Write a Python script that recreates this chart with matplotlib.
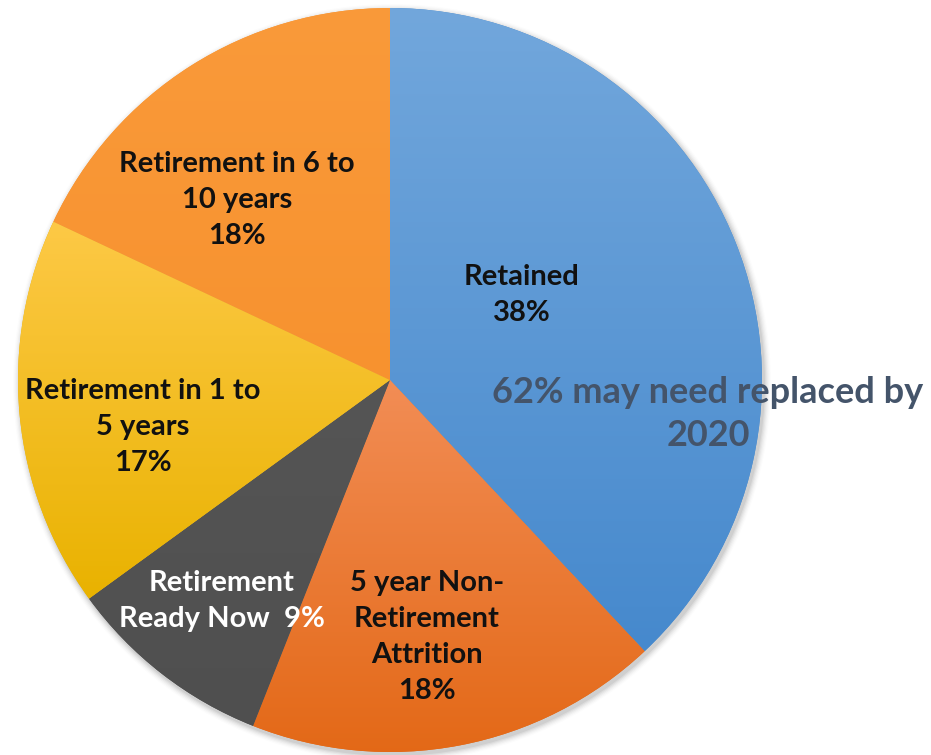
import matplotlib
matplotlib.use("Agg")
import matplotlib.pyplot as plt
import numpy as np
from matplotlib.patches import Circle

# ---- data ----
labels = ["Retained", "5 year Non-\nRetirement\nAttrition", "Retirement\nReady Now ",
          "Retirement in 1 to\n5 years", "Retirement in 6 to\n10 years"]
values = [38, 18, 9, 17, 18]
# gradient colours (top, bottom) per slice
tops = ["#72a7dc", "#f28d55", "#555555", "#fdc946", "#fa9a3a"]
bottoms = ["#4689cd", "#e36816", "#4f4f4f", "#e9b200", "#f7922f"]
text_colors = ["#111111", "#111111", "white", "#111111", "#111111"]

W, H = 931, 755
CX, CY, R = 390, H - 380, 372

plt.rcParams["font.family"] = ["Lato", "DejaVu Sans"]

fig = plt.figure(figsize=(W / 100, H / 100), dpi=100)
ax = fig.add_axes([0, 0, 1, 1])

# soft shadow behind the pie
for i, a in enumerate(np.linspace(0.05, 0.012, 6)):
    ax.add_patch(Circle((CX + 2, CY - 3), R + 1 + i * 1.2, color="black",
                        alpha=a, lw=0, zorder=0))

wedges, _ = ax.pie(values, startangle=90, counterclock=False,
                   center=(CX, CY), radius=R, colors=bottoms,
                   wedgeprops=dict(linewidth=0, zorder=1))

# vertical gradient per slice
for w, c0, c1 in zip(wedges, tops, bottoms):
    verts = w.get_path().vertices
    bx0, by0 = verts.min(axis=0)
    bx1, by1 = verts.max(axis=0)
    t = np.linspace(0, 1, 256)[:, None]
    ca = np.array(matplotlib.colors.to_rgb(c0))
    cb = np.array(matplotlib.colors.to_rgb(c1))
    grad = (ca * (1 - t) + cb * t)[:, None, :]
    im = ax.imshow(grad, extent=(bx0, bx1, by0, by1), origin="upper",
                   aspect="auto", zorder=2, interpolation="bilinear")
    im.set_clip_path(w)

fs = 21
# slice labels (pixel positions from the reference, y measured from top)
label_pos = [(522, 295), (427, 637), (222, 601), (143, 427), (237, 200)]
for i, (lab, v, (px, py), tc) in enumerate(zip(labels, values, label_pos, text_colors)):
    s = f"{lab} {v}%" if i == 2 else f"{lab}\n{v}%"
    ax.text(px, H - py, s, ha="center", va="center", multialignment="center",
            fontsize=fs, fontweight="bold", color=tc, linespacing=1.48, zorder=5)

ax.text(708, H - 414, "62% may need replaced by\n2020", ha="center", va="center",
        fontsize=26, fontweight="bold", color="#44546a", linespacing=1.35, zorder=6)

ax.set_xlim(0, W)
ax.set_ylim(0, H)
ax.set_aspect("equal")
ax.axis("off")
fig.savefig("out.png", dpi=100)
